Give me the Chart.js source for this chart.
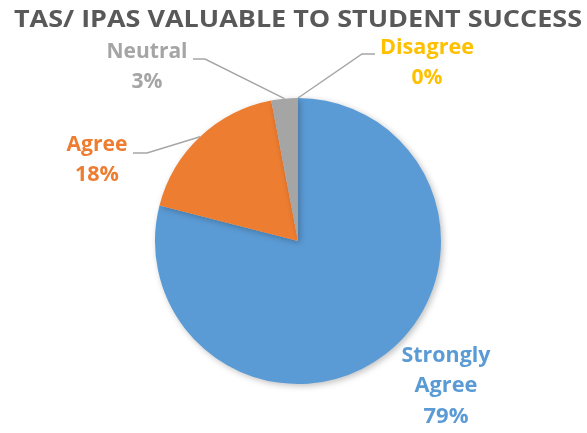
<!DOCTYPE html>
<html><head><meta charset="utf-8">
<script src="https://cdn.jsdelivr.net/npm/chart.js@4.4.0/dist/chart.umd.min.js"></script>
<style>html,body{margin:0;padding:0;background:#fff;}#wrap{width:587px;height:433px;}</style>
</head><body><div id="wrap"><canvas id="c" width="587" height="433"></canvas></div>
<script>
const chartTitle = "TAS/ IPAS VALUABLE TO STUDENT SUCCESS";
const categories = ["Strongly Agree", "Agree", "Neutral", "Disagree"];
const values = [79, 18, 3, 0];
const percentLabels = ["79%", "18%", "3%", "0%"];
const colors = ["#5B9BD5", "#ED7D31", "#A5A5A5", "#FFC000"];

const FONT = "'Open Sans', Lato, sans-serif";

// draw text horizontally fitted to a target width
function fitText(ctx, text, x, y, targetW) {
  const w = ctx.measureText(text).width;
  const s = targetW / w;
  ctx.save();
  ctx.translate(x, y);
  ctx.scale(s, 1);
  ctx.fillText(text, 0, 0);
  ctx.restore();
}

const labelPlugin = {
  id: 'labels',
  beforeDatasetsDraw(chart) {
    const ctx = chart.ctx;
    ctx.save();
    ctx.shadowColor = 'rgba(0,0,0,0.25)';
    ctx.shadowBlur = 6;
    ctx.shadowOffsetX = 2;
    ctx.shadowOffsetY = 2;
  },
  afterDatasetsDraw(chart) {
    chart.ctx.restore();
  },
  afterDraw(chart) {
    const ctx = chart.ctx;
    const meta = chart.getDatasetMeta(0);
    const arc0 = meta.data[0];
    const cx = arc0.x, cy = arc0.y, r = arc0.outerRadius;
    function outerPoint(i) {
      const a = meta.data[i];
      const mid = (a.startAngle + a.endAngle) / 2;
      return [cx + r * Math.cos(mid), cy + r * Math.sin(mid)];
    }
    // title
    ctx.save();
    ctx.fillStyle = '#595959';
    ctx.font = "bold 24px " + FONT;
    ctx.textAlign = 'center';
    ctx.textBaseline = 'middle';
    fitText(ctx, chartTitle, cx, 20, 568);
    ctx.restore();

    const specs = [
      {i:0, lines:["Strongly","Agree", percentLabels[0]], widths:[89,63,45], dx:148, dy:115, leader:null},
      {i:1, lines:["Agree", percentLabels[1]], widths:[61,44], dx:-201, dy:-96, leader:[[-151,-88],[-165,-88]]},
      {i:2, lines:["Neutral", percentLabels[2]], widths:[81,31], dx:-151, dy:-189, leader:[[-93,-182],[-105,-182]]},
      {i:3, lines:["Disagree", percentLabels[3]], widths:[94,31], dx:129, dy:-193, leader:[[64,-187],[77,-187]]},
    ];
    specs.forEach(s => {
      if (s.leader) {
        const p = outerPoint(s.i);
        ctx.save();
        ctx.strokeStyle = '#A6A6A6';
        ctx.lineWidth = 1.5;
        ctx.beginPath();
        ctx.moveTo(p[0], p[1]);
        ctx.lineTo(cx + s.leader[0][0], cy + s.leader[0][1]);
        ctx.lineTo(cx + s.leader[1][0], cy + s.leader[1][1]);
        ctx.stroke();
        ctx.restore();
      }
      ctx.save();
      ctx.fillStyle = colors[s.i];
      ctx.font = "bold 21px " + FONT;
      ctx.textAlign = 'center';
      ctx.textBaseline = 'middle';
      s.lines.forEach((t, k) => fitText(ctx, t, cx + s.dx, cy + s.dy + k * 30.5, s.widths[k]));
      ctx.restore();
    });
  }
};

new Chart(document.getElementById('c'), {
  type: 'pie',
  data: {
    labels: categories,
    datasets: [{ data: values, backgroundColor: colors, borderWidth: 0 }]
  },
  options: {
    responsive: false,
    animation: false,
    layout: { padding: { top: 98, bottom: 49, left: 100, right: 91 } },
    plugins: { legend: { display: false }, title: { display: false }, tooltip: { enabled: false } }
  },
  plugins: [labelPlugin]
});
</script>
</body></html>
